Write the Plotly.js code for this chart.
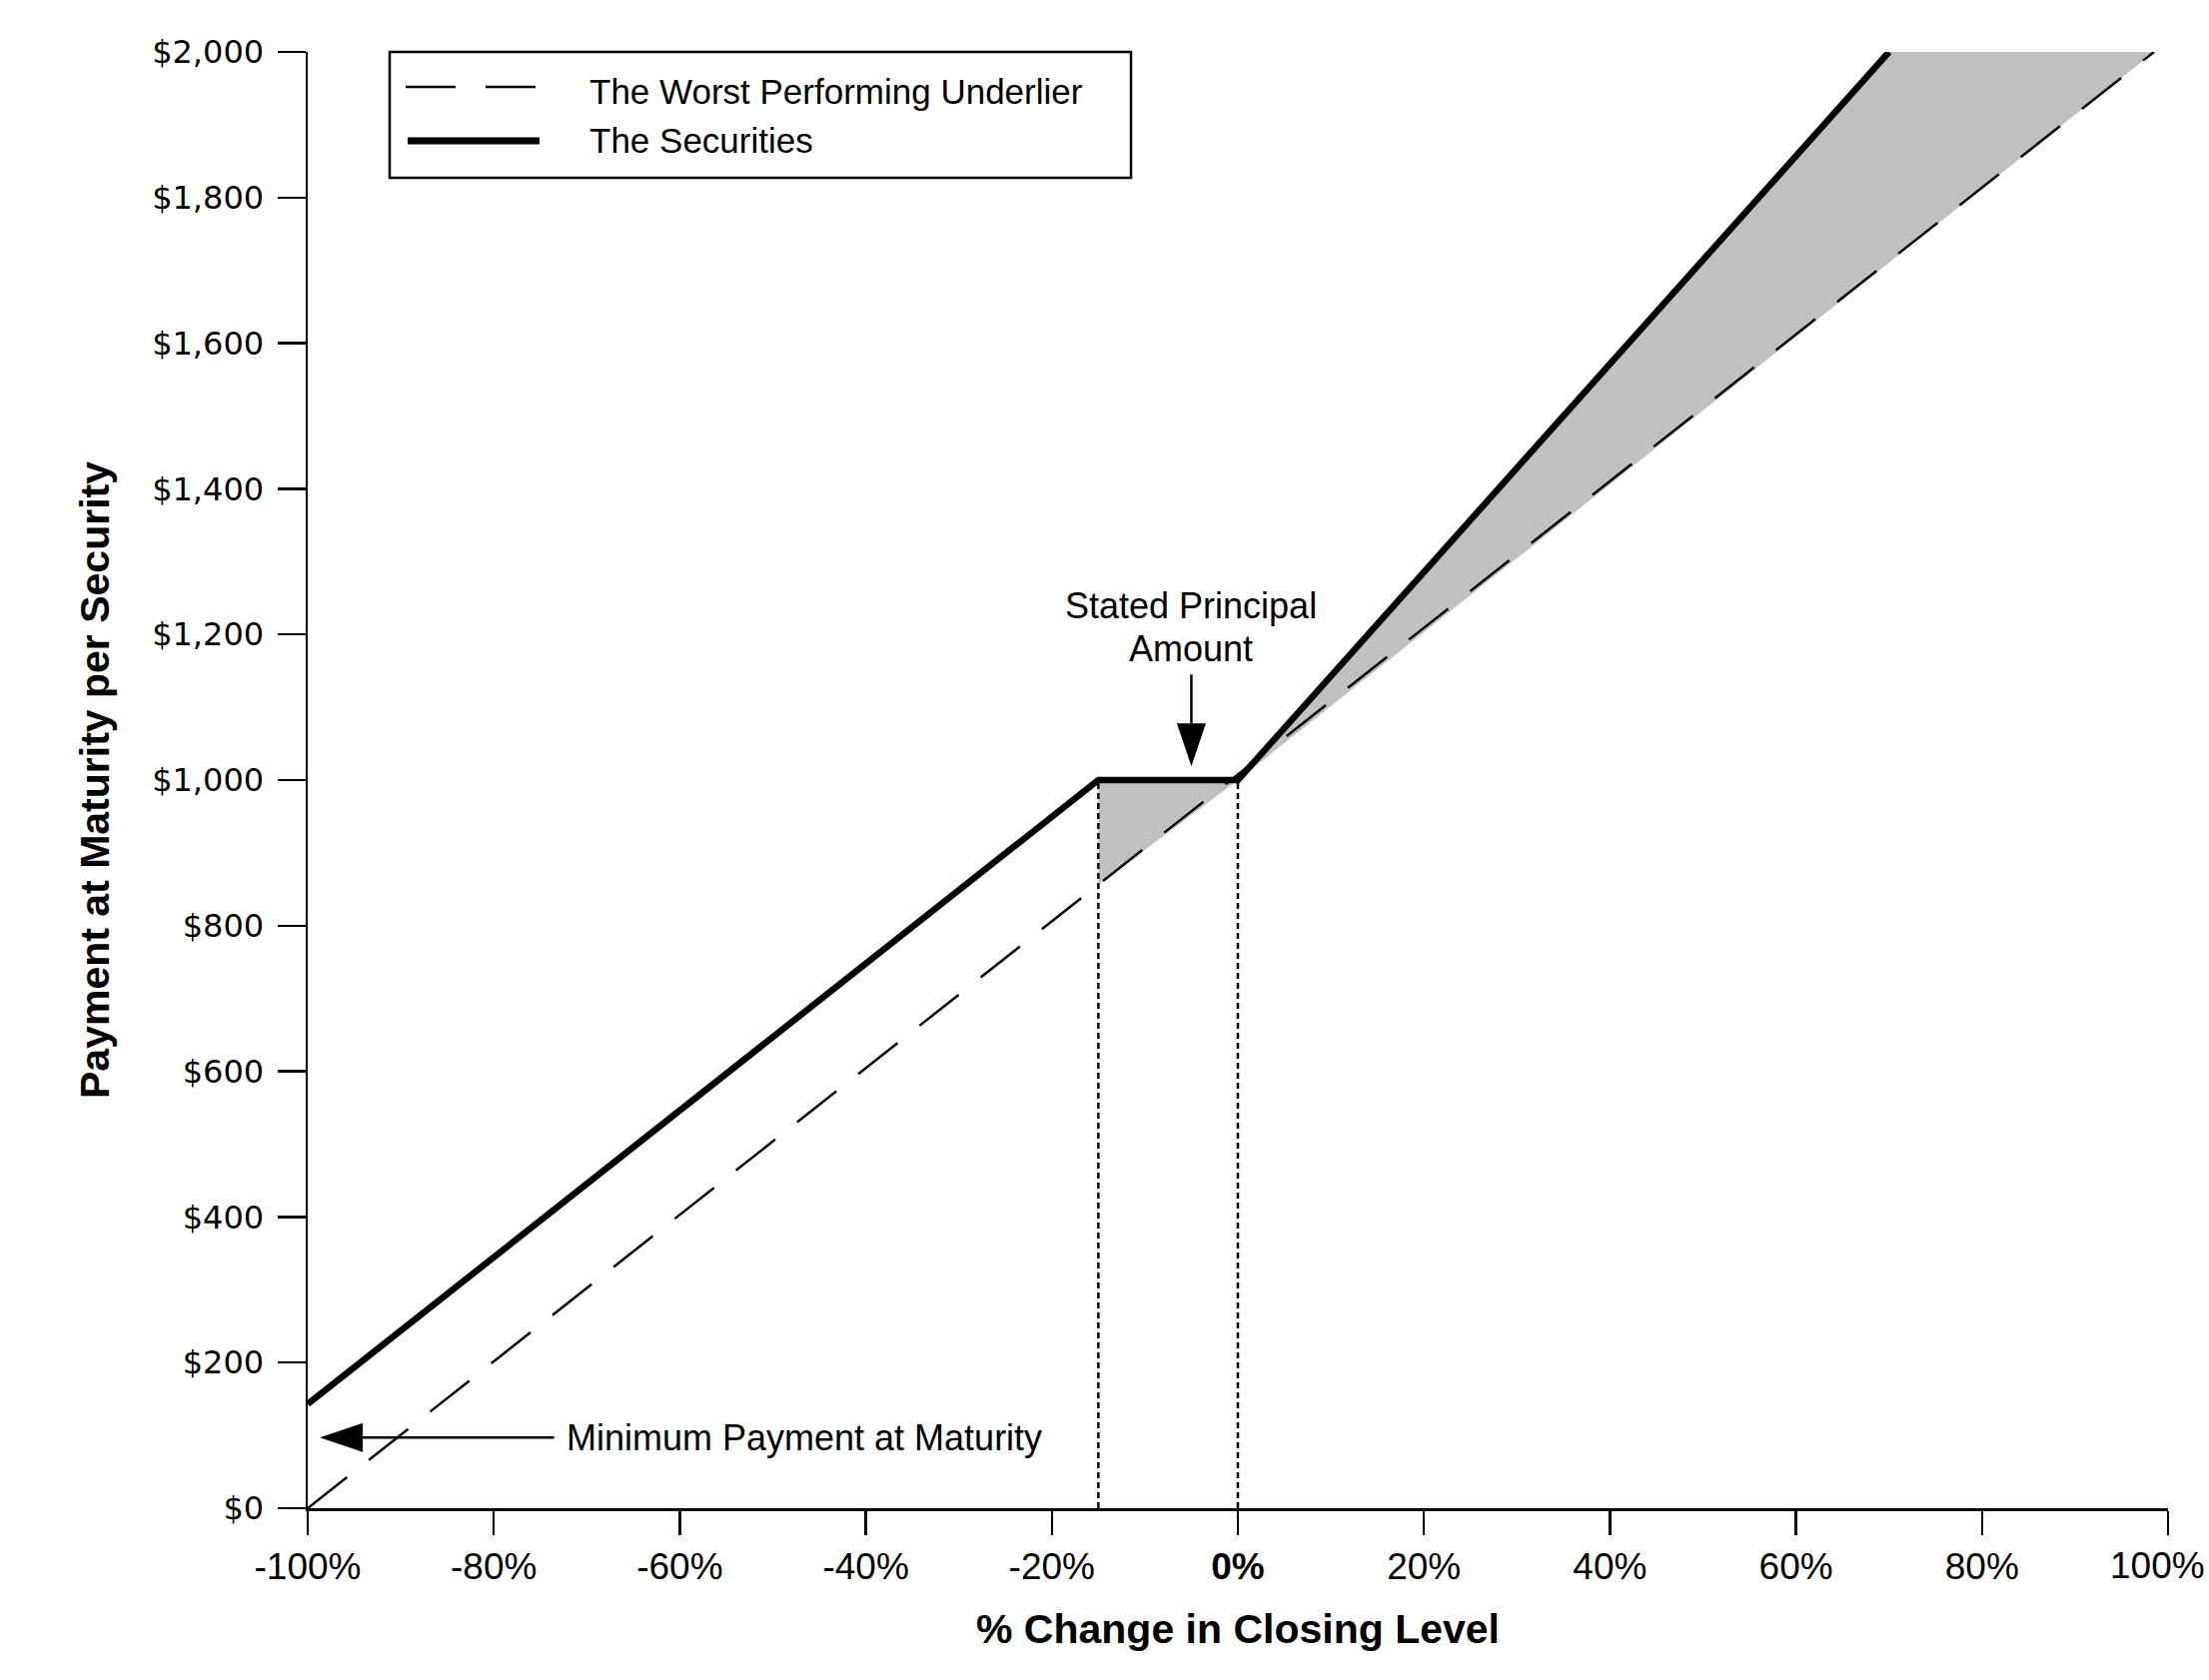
<!DOCTYPE html>
<html>
<head>
<meta charset="utf-8">
<script src="https://cdn.plot.ly/plotly-3.0.1.min.js"></script>
<style>html,body{margin:0;padding:0;background:#fff;}</style>
</head>
<body>
<div id="chart" style="width:2211px;height:1682px;"></div>
<script>
// ---- data ----
const underlierX = [-100, 98.5];
const underlierY = [0, 2000];
const securitiesX = [-100, -15, 0, 70];
const securitiesY = [143, 1000, 1000, 2000];
const bufferShadeX = [-15, -15, 0];
const bufferShadeY = [856, 1000, 1000];
const upsideShadeX = [0, 70, 98.5];
const upsideShadeY = [1000, 2000, 2000];
const refLevelsX = [-15, 0];
const refLineY = [0, 1000];
const seriesNames = ['The Worst Performing Underlier', 'The Securities'];

const xTickVals = [-100, -80, -60, -40, -20, 0, 20, 40, 60, 80, 100];
const xTickText = ['-100%', '-80%', '-60%', '-40%', '-20%', '<b>0%</b>', '20%', '40%', '60%', '80%', ''];
const xLastTickText = '100%';
const yTickVals = [0, 200, 400, 600, 800, 1000, 1200, 1400, 1600, 1800, 2000];
const yTickText = ['$0', '$200', '$400', '$600', '$800', '$1,000', '$1,200', '$1,400', '$1,600', '$1,800', '$2,000'];

const GRAY = '#c0c0c0';
const ARIAL = 'Liberation Sans, Arial, sans-serif';

const traces = [];
traces.push({x: bufferShadeX, y: bufferShadeY, type: 'scatter', mode: 'lines', fill: 'toself',
  fillcolor: GRAY, line: {width: 0, color: GRAY}, hoverinfo: 'skip', showlegend: false});
traces.push({x: upsideShadeX, y: upsideShadeY, type: 'scatter', mode: 'lines', fill: 'toself',
  fillcolor: GRAY, line: {width: 0, color: GRAY}, hoverinfo: 'skip', showlegend: false});
refLevelsX.forEach(v => {
  traces.push({x: refLineY.map(() => v), y: refLineY, type: 'scatter', mode: 'lines',
    line: {color: '#000', width: 2.5, dash: '6px,4px'}, hoverinfo: 'skip', showlegend: false});
});
traces.push({x: underlierX, y: underlierY, type: 'scatter', mode: 'lines', name: seriesNames[0],
  line: {color: '#000', width: 2.5, dash: '50px,28px'}, showlegend: false});
traces.push({x: securitiesX, y: securitiesY, type: 'scatter', mode: 'lines', name: seriesNames[1],
  line: {color: '#000', width: 6.5}, showlegend: false});

// plot area geometry (pixels) for paper-placed legend
const L = 308, R = 41, T = 52, B = 172, W = 2211, H = 1682;
const PW = W - L - R, PH = H - T - B;
const px = v => (v - L) / PW;
const py = v => (H - B - v) / PH;

const shapes = [
  // legend box
  {type: 'rect', xref: 'paper', yref: 'paper', x0: px(390), x1: px(1132), y0: py(178), y1: py(52),
    line: {color: '#000', width: 2.5}, fillcolor: '#fff', layer: 'above'},
  {type: 'line', xref: 'paper', yref: 'paper', x0: px(406), x1: px(540), y0: py(87), y1: py(87),
    line: {color: '#000', width: 2.5, dash: '50px,30px'}, layer: 'above'},
  {type: 'line', xref: 'paper', yref: 'paper', x0: px(408), x1: px(540), y0: py(141), y1: py(141),
    line: {color: '#000', width: 7}, layer: 'above'},
  // "Stated Principal Amount" arrow
  {type: 'line', xref: 'x', yref: 'y', x0: -5, x1: -5, y0: 1145, y1: 1078, line: {color: '#000', width: 2.5}},
  {type: 'path', xref: 'x', yref: 'y', xsizemode: 'pixel', ysizemode: 'pixel', xanchor: -5, yanchor: 1019,
    path: 'M0,0 L-14.5,43 L14.5,43 Z', fillcolor: '#000', line: {width: 0}},
  // "Minimum Payment at Maturity" arrow
  {type: 'line', xref: 'x', yref: 'y', x0: -94.3, x1: -73.5, y0: 97, y1: 97, line: {color: '#000', width: 2.5}},
  {type: 'path', xref: 'x', yref: 'y', xsizemode: 'pixel', ysizemode: 'pixel', xanchor: -98.7, yanchor: 97,
    path: 'M0,0 L43,14.5 L43,-14.5 Z', fillcolor: '#000', line: {width: 0}}
];

const annFont = {family: ARIAL, size: 36, color: '#000'};
const annotations = [
  {xref: 'paper', yref: 'paper', x: px(588), y: py(91), xanchor: 'left', yanchor: 'middle', showarrow: false,
    text: seriesNames[0], font: {family: ARIAL, size: 35, color: '#000'}},
  {xref: 'paper', yref: 'paper', x: px(588), y: py(141), xanchor: 'left', yanchor: 'middle', showarrow: false,
    text: seriesNames[1], font: {family: ARIAL, size: 35, color: '#000'}},
  {xref: 'x', yref: 'y', x: -5.1, y: 1239, xanchor: 'center', yanchor: 'middle', showarrow: false,
    text: 'Stated Principal', font: annFont},
  {xref: 'x', yref: 'y', x: -5.1, y: 1180, xanchor: 'center', yanchor: 'middle', showarrow: false,
    text: 'Amount', font: annFont},
  {xref: 'x', yref: 'y', x: -72.4, y: 97, xanchor: 'left', yanchor: 'middle', showarrow: false,
    text: 'Minimum Payment at Maturity', font: annFont},
  // last x tick label, nudged left so it stays inside the page
  {xref: 'x', yref: 'paper', x: xTickVals[xTickVals.length - 1], xshift: -11, y: py(1567), xanchor: 'center', yanchor: 'middle',
    showarrow: false, text: xLastTickText, font: {family: ARIAL, size: 37, color: '#000'}}
];

const layout = {
  width: W, height: H,
  margin: {l: L, r: R, t: T, b: B, pad: 0},
  paper_bgcolor: '#fff', plot_bgcolor: '#fff',
  showlegend: false,
  xaxis: {
    range: [-100, 100], tickmode: 'array', tickvals: xTickVals, ticktext: xTickText,
    ticks: 'outside', ticklen: 24, tickwidth: 2.5, tickcolor: '#000',
    showline: true, linewidth: 3, linecolor: '#000', showgrid: false, zeroline: false,
    tickfont: {family: ARIAL, size: 37, color: '#000'},
    title: {text: '% Change in Closing Level', font: {family: ARIAL, size: 41, color: '#000', weight: 700}, standoff: 28},
    fixedrange: true
  },
  yaxis: {
    range: [0, 2000], tickmode: 'array', tickvals: yTickVals, ticktext: yTickText,
    ticks: 'outside', ticklen: 28, tickwidth: 2.5, tickcolor: '#000', ticklabelstandoff: 7,
    showline: true, linewidth: 2.5, linecolor: '#000', showgrid: false, zeroline: false,
    tickfont: {family: 'DejaVu Sans, sans-serif', size: 32, color: '#000'},
    title: {text: 'Payment at Maturity per Security', font: {family: ARIAL, size: 41, color: '#000', weight: 700}, standoff: 30},
    fixedrange: true
  },
  shapes: shapes,
  annotations: annotations
};

Plotly.newPlot('chart', traces, layout, {displayModeBar: false, staticPlot: true});
</script>
</body>
</html>
